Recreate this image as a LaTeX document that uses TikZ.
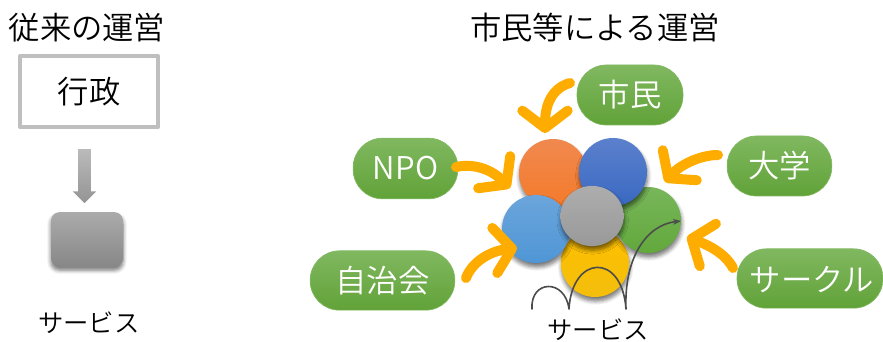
\documentclass[tikz,border=0pt]{standalone}
\usepackage{fontspec}
\setmainfont{Noto Sans CJK JP}[UprightFont=* DemiLight]
\usetikzlibrary{arrows.meta,shadows.blur,shapes.arrows}
\definecolor{pilltop}{HTML}{80B860}
\definecolor{pillmid}{HTML}{6BAF40}
\definecolor{pillbot}{HTML}{61A238}
\definecolor{pushcolor}{HTML}{FFAC00}
\definecolor{yellowtop}{HTML}{FFC000}
\definecolor{yellowbot}{HTML}{F3BE0C}
\definecolor{greentop}{HTML}{78B65A}
\definecolor{greenbot}{HTML}{62A83C}
\definecolor{orangetop}{HTML}{F0894F}
\definecolor{orangebot}{HTML}{F47A2A}
\definecolor{bluetop}{HTML}{5B80CC}
\definecolor{bluebot}{HTML}{3A69C2}
\definecolor{skytop}{HTML}{6BA5DB}
\definecolor{skybot}{HTML}{4F96D6}
\definecolor{graytop}{HTML}{ADADAD}
\definecolor{graybot}{HTML}{999999}

\begin{document}
\begin{tikzpicture}[x=0.75pt, y=-0.75pt, line join = round, line cap = round,
    heading/.style = {font=\fontsize{23.5}{23.5}\selectfont, inner sep=0pt},
    caption/.style = {font=\fontsize{19}{19}\selectfont, inner sep=0pt},
    pill/.style = {rounded corners=22pt, top color=pilltop, middle color=pillmid, bottom color=pillbot,
        draw=pilltop, line width=0.5pt, text=white, inner sep=0pt, font=\fontsize{23.5}{23.5}\selectfont},
    ball/.style = {circle, inner sep=0pt, minimum size=51pt, top color=#1top, bottom color=#1bot,
        blur shadow={shadow xshift=0.5pt, shadow yshift=-3pt, shadow blur steps=6,
            shadow blur radius=3pt, shadow opacity=55}},
    pushes/.style = {draw=pushcolor, line width=7.5pt,
        -{Straight Barb[length=13pt, width=34pt, round]}},
]
    \useasboundingbox (0,0) rectangle (883,342);

    % left side
    \node[heading] (oldtitle) at (87,28) {従来の運営};
    \node[draw=black!25, line width=2.6pt, minimum width=103.5pt, minimum height=53.5pt,
        inner sep=0pt, font=\fontsize{23.5}{23.5}\selectfont] (gyosei) at (89,91.5) {行政};
    \node[single arrow, shape border rotate=270, inner sep=4.5pt, minimum width=17.5pt,
        single arrow head extend=4.2pt, single arrow tip angle=90, minimum height=40.5pt,
        top color=black!27, bottom color=black!42] (flow) at (84.5,173) {};
    \node[rounded corners=6.5pt, minimum width=54pt, minimum height=41pt, inner sep=0pt,
        top color=black!33, bottom color=black!47,
        blur shadow={shadow xshift=0pt, shadow yshift=-2.5pt, shadow blur steps=6,
            shadow blur radius=3pt, shadow opacity=55}]
        (oldservice) at (87,239.5) {};
    \node[caption] (oldlabel) at (89,323) {サービス};

    % right side
    \node[heading] (newtitle) at (595,28) {市民等による運営};

    \node[pill, minimum width=79.5pt, minimum height=45pt] (shimin) at (630,95) {市民};
    \node[pill, minimum width=78.5pt, minimum height=45.5pt] (npo) at (405.5,168.5) {NPO};
    \node[pill, minimum width=108.5pt, minimum height=44.5pt] (jichikai) at (382.5,280.5) {自治会};
    \node[pill, minimum width=78.5pt, minimum height=45pt] (daigaku) at (779.5,166) {大学};
    \node[pill, minimum width=109.5pt, minimum height=44.5pt, text depth=0pt] (sakuru) at (810,278.5) {\hspace{3pt}サークル};

    \node[ball=yellow] (yellowball) at (595,263) {};
    \node[ball=green, minimum size=49.5pt] (greenball) at (648,220) {};
    \node[ball=orange] (orangeball) at (553,173) {};
    \node[ball=blue] (blueball) at (613,172) {};
    \node[ball=sky] (skyball) at (536,229) {};
    \node[ball=gray, minimum size=47.5pt, yscale=0.95] (grayball) at (592,216) {};

    \coordinate (shimintip) at (545,133);
    \coordinate (npotip) at (510,188);
    \coordinate (jichikaitip) at (517,248);
    \coordinate (daigakutip) at (665,182);
    \coordinate (sakurutip) at (687,237);

    \draw[pushes] (570,83) .. controls (552,88) and (545,105) .. (shimintip);
    \draw[pushes] (456,167) .. controls (475,163) and (492,170) .. (npotip);
    \draw[pushes] (466,278) .. controls (472,262) and (490,251) .. (jichikaitip);
    \draw[pushes] (718,155) .. controls (700,155) and (680,165) .. (daigakutip);
    \draw[pushes] (733,268) .. controls (725,253) and (708,245) .. (sakurutip);

    % bouncing line
    \coordinate (bounce) at (532,309);
    \coordinate (bounceend) at (681,221);
    \draw[black!70, line width=1.2pt, -{Stealth[length=6pt]}] (bounce)
        .. controls (530,280) and (565,278) .. (569,309)
        .. controls (572,255) and (622,252) .. (626,309)
        .. controls (624,260) and (645,225) .. (bounceend);

    \node[caption] (newlabel) at (598,330) {サービス};
\end{tikzpicture}
\end{document}
